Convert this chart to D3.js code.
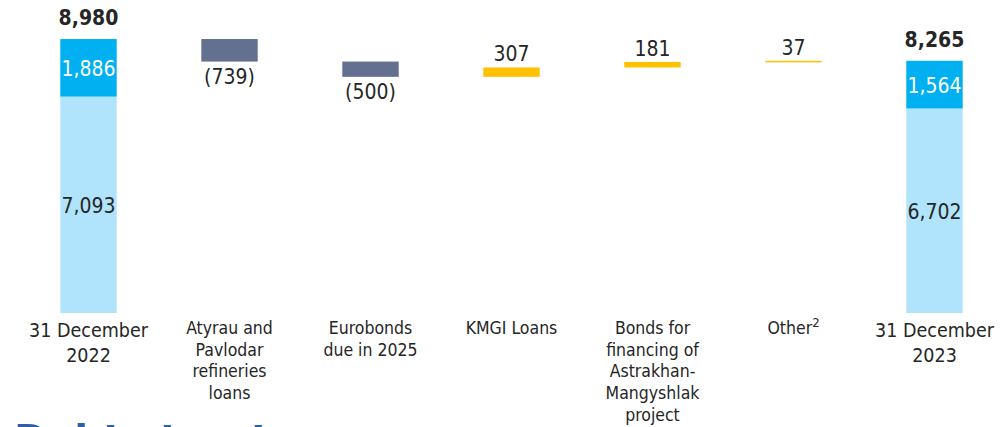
<!DOCTYPE html>
<html>
<head>
<meta charset="utf-8">
<script src="https://cdn.jsdelivr.net/npm/d3@7"></script>
<style>
  body{margin:0;background:#fff;}
  svg{display:block;font-family:"DejaVu Sans Condensed","DejaVu Sans",sans-serif;}
</style>
</head>
<body>
<svg id="chart" width="1005" height="427"></svg>
<script>
// categories (label lines)
const categories=[
  ["31 December","2022"],
  ["Atyrau and","Pavlodar","refineries","loans"],
  ["Eurobonds","due in 2025"],
  ["KMGI Loans"],
  ["Bonds for","financing of","Astrakhan-","Mangyshlak","project"],
  ["Other"],
  ["31 December","2023"]
];
const kinds=["total","neg","neg","pos","pos","pos","total"];
const changes=[null,-739,-500,307,181,37,null];
// totals split in two parts: lower (light) and upper (dark)
const totalLower=[7093,null,null,null,null,null,6702];
const totalUpper=[1886,null,null,null,null,null,1564];
const totalLabels=[8980,null,null,null,null,null,8265];

const svg=d3.select("#chart");
const x=d3.scaleBand().domain(d3.range(categories.length)).range([18,1005]).paddingInner(0.6).paddingOuter(0.3);
const y=d3.scaleLinear().domain([0,8980]).range([313,39]);
const fmt=d3.format(",");

// compute waterfall
let running=0;
const bars=categories.map((c,i)=>{
  if(kinds[i]==="total"){
    running=totalLower[i]+totalUpper[i];
    return {i,kind:"total",lower:totalLower[i],upper:totalUpper[i],total:totalLabels[i]};
  }
  const start=running; running+=changes[i];
  return {i,kind:kinds[i],y0:Math.min(start,running),y1:Math.max(start,running),v:changes[i]};
});

const g=svg.append("g");
bars.forEach(b=>{
  const bx=x(b.i), bw=x.bandwidth(), cx=bx+bw/2;
  if(b.kind==="total"){
    g.append("rect").attr("x",bx).attr("width",bw).attr("y",y(b.lower)).attr("height",y(0)-y(b.lower)).attr("fill","#B0E4FC");
    g.append("rect").attr("x",bx).attr("width",bw).attr("y",y(b.lower+b.upper)).attr("height",y(b.lower)-y(b.lower+b.upper)).attr("fill","#00B0F0");
    g.append("text").attr("x",cx).attr("y",(y(b.lower)+y(0))/2+8.5).attr("text-anchor","middle").attr("font-size",21).attr("fill","#262626").text(fmt(b.lower));
    g.append("text").attr("x",cx).attr("y",(y(b.lower)+y(b.lower+b.upper))/2+8.5).attr("text-anchor","middle").attr("font-size",21).attr("fill","#fff").text(fmt(b.upper));
    g.append("text").attr("x",cx).attr("y",y(b.lower+b.upper)-14).attr("text-anchor","middle").attr("font-size",21).attr("font-weight","bold").attr("fill","#262626").text(fmt(b.total));
  } else {
    const top=y(b.y1), bot=y(b.y0);
    g.append("rect").attr("x",bx).attr("width",bw).attr("y",top).attr("height",Math.max(bot-top,1.5))
      .attr("fill",b.kind==="neg"?"#63708F":"#FFC000");
    if(b.kind==="neg")
      g.append("text").attr("x",cx).attr("y",bot+22).attr("text-anchor","middle").attr("font-size",21).attr("fill","#262626").text("("+fmt(-b.v)+")");
    else
      g.append("text").attr("x",cx).attr("y",top-6).attr("text-anchor","middle").attr("font-size",21).attr("fill","#262626").text(fmt(b.v));
  }
});

// category labels
categories.forEach((lines,i)=>{
  const cx=x(i)+x.bandwidth()/2;
  const big=kinds[i]==="total";
  const t=g.append("text").attr("text-anchor","middle").attr("fill","#262626").attr("font-size",big?19.5:17.5);
  lines.forEach((l,j)=>{
    t.append("tspan").attr("x",cx).attr("y",(big?337:334)+j*(big?24.5:21.7)).text(l);
  });
  if(lines[0]==="Other") t.select("tspan").append("tspan").attr("baseline-shift","super").attr("font-size",13).text("2");
});

// section title below, cut off by the bottom edge as in the source slide
svg.append("text").attr("x",14).attr("y",454).attr("font-size",40).attr("font-weight","bold")
  .attr("font-family","'DejaVu Sans',sans-serif").attr("fill","#2E5FA5").text("Debt structure");
</script>
</body>
</html>
